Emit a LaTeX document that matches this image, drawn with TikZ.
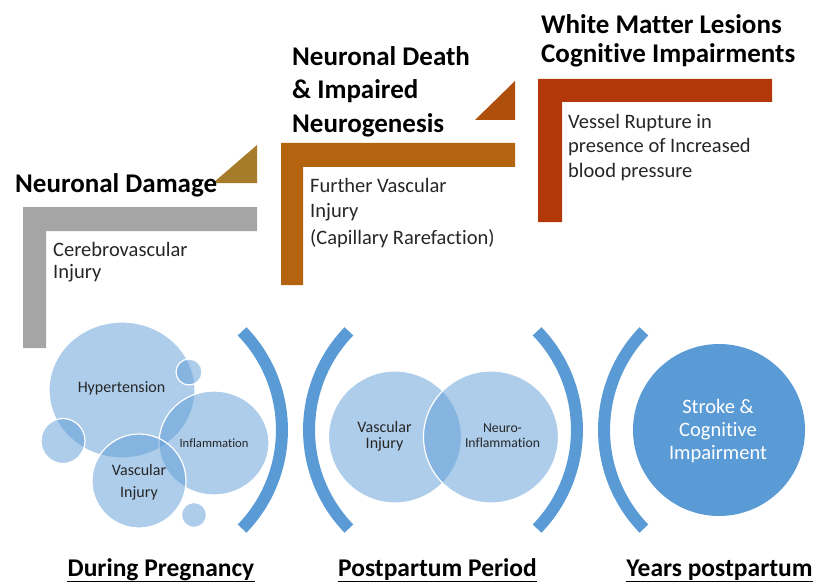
\documentclass[tikz,border=0pt]{standalone}
\usepackage{fontspec}
\setmainfont{Carlito}[Ligatures=NoCommon]
\usetikzlibrary{shapes.geometric,calc}
\definecolor{blu}{HTML}{5B9BD5}
\definecolor{grayL}{HTML}{A5A5A5}
\definecolor{goldT}{HTML}{A67C2A}
\definecolor{brownL}{HTML}{B4640F}
\definecolor{brownT}{HTML}{AE500C}
\definecolor{redL}{HTML}{B2380A}
\definecolor{txt}{HTML}{262626}
\begin{document}
\begin{tikzpicture}[x=1pt,y=-1pt,
  head/.style={anchor=base west, inner sep=0, font=\fontsize{27}{33}\selectfont\bfseries, text=black},
  body/.style={anchor=base west, inner sep=0, font=\fontsize{20.5}{24}\selectfont, text=txt},
  bub/.style={ellipse, draw=white, line width=1.2pt, fill=blu, fill opacity=0.5, inner sep=0},
  ctext/.style={anchor=base, inner sep=0, text=txt},
  brk/.style={draw=blu, line width=12pt},
  lab/.style={anchor=base, inner sep=0, font=\fontsize{25.5}{30}\selectfont\bfseries, text=black},
  uline/.style={line width=1.8pt, black}]
\useasboundingbox (0,0) rectangle (814,583);

% L shapes and triangles
\fill[grayL] (23,207) -- (257,207) -- (257,231) -- (46,231) -- (46,348) -- (23,348) -- cycle;
\fill[goldT] (213,183) -- (257,145) -- (257,183) -- cycle;
\fill[brownL] (281,143) -- (515,143) -- (515,167) -- (303,167) -- (303,285) -- (281,285) -- cycle;
\fill[brownT] (475,120) -- (515,81) -- (515,120) -- cycle;
\fill[redL] (538,79) -- (772,79) -- (772,102) -- (562,102) -- (562,222) -- (538,222) -- cycle;

% headings
\node[head] (h1) at (15,193) {Neuronal Damage};
\node[head] (h2a) at (292,66) {Neuronal Death};
\node[head] (h2b) at (292,99) {\& Impaired};
\node[head] (h2c) at (292,133) {Neurogenesis};
\node[head] (h3a) at (541,34) {White Matter Lesions};
\node[head] (h3b) at (541,63) {Cognitive Impairments};

% body texts
\node[body] (b1a) at (53,256) {Cerebrovascular};
\node[body] (b1b) at (53,278) {Injury};
\node[body] (b2a) at (310,192) {Further Vascular};
\node[body] (b2b) at (310,217) {Injury};
\node[body] (b2c) at (310,244) {(Capillary Rarefaction)};
\node[body] (b3a) at (568,129) {Vessel Rupture in};
\node[body] (b3b) at (568,153) {presence of Increased};
\node[body] (b3c) at (568,177) {blood pressure};

% left cluster of bubbles
\node[bub, minimum width=146, minimum height=136] (hyp) at (122,390) {};
\node[bub, minimum width=26, minimum height=26] (s1) at (189,372) {};
\node[bub, minimum width=44, minimum height=45] (s2) at (63,441) {};
\node[bub, minimum width=110, minimum height=104] (infl) at (214,443) {};
\node[bub, minimum width=94, minimum height=94] (vasc) at (139,481) {};
\node[bub, minimum width=25, minimum height=25] (s3) at (194,515) {};

\node[ctext, font=\fontsize{16}{19}\selectfont] (thyp) at (121.5,392) {Hypertension};
\node[ctext, font=\fontsize{12.6}{15}\selectfont] (tinf) at (214,447) {Inflammation};
\node[ctext, font=\fontsize{16}{19}\selectfont] (tva) at (139,475) {Vascular};
\node[ctext, font=\fontsize{16}{19}\selectfont] (tvb) at (139,497) {Injury};

% middle bubbles
\node[bub, minimum width=133, minimum height=132] (mv) at (395,437) {};
\node[bub, minimum width=135, minimum height=132] (mn) at (491,437) {};
\node[ctext, font=\fontsize{16}{19}\selectfont] (tmva) at (384.5,432) {Vascular};
\node[ctext, font=\fontsize{16}{19}\selectfont] (tmvb) at (384.5,448) {Injury};
\node[ctext, font=\fontsize{13.7}{16}\selectfont] (tmna) at (502.5,432) {Neuro-};
\node[ctext, font=\fontsize{13.7}{16}\selectfont] (tmnb) at (502.5,447) {Inflammation};

% right circle
\node[circle, fill=blu, inner sep=0, minimum size=172] (stroke) at (719,430) {};
\node[ctext, text=white, font=\fontsize{20.5}{24}\selectfont] (tsa) at (718,413) {Stroke \&};
\node[ctext, text=white, font=\fontsize{20.5}{24}\selectfont] (tsb) at (718,436) {Cognitive};
\node[ctext, text=white, font=\fontsize{20.5}{24}\selectfont] (tsc) at (718,459) {Impairment};

% brackets
\draw[brk] (242.1,528.6) arc[start angle=44, end angle=-44, radius=142];
\draw[brk] (348.9,528.6) arc[start angle=136, end angle=224, radius=142];
\draw[brk] (537.1,528.6) arc[start angle=44, end angle=-44, radius=142];
\draw[brk] (643.9,528.6) arc[start angle=136, end angle=224, radius=142];

% bottom labels
\node[lab] (l1) at (161,576) {During Pregnancy};
\node[lab] (l2) at (437.5,576) {Postpartum Period};
\node[lab] (l3) at (719.5,576) {Years postpartum};
\draw[uline] ($(l1.base west)+(0,5.5)$) -- ($(l1.base east)+(0,5.5)$);
\draw[uline] ($(l2.base west)+(0,5.5)$) -- ($(l2.base east)+(0,5.5)$);
\draw[uline] ($(l3.base west)+(0,5.5)$) -- ($(l3.base east)+(0,5.5)$);
\end{tikzpicture}
\end{document}
